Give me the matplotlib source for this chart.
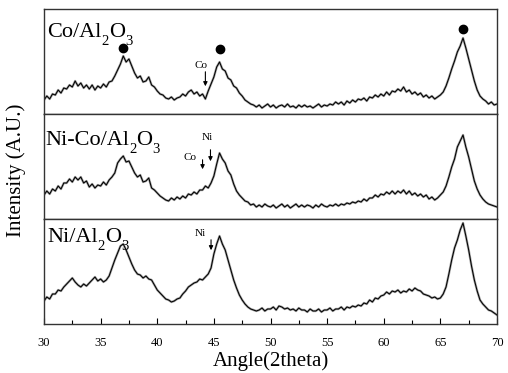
import numpy as np
import matplotlib
matplotlib.use("Agg")
import matplotlib.pyplot as plt

plt.rcParams['font.family'] = ['Liberation Serif', 'DejaVu Serif']

# 2theta grid (0.25 deg steps, 30 -> 70)
angle = np.arange(30, 70.001, 0.25)

co_al2o3 = [
    14, 18, 15, 20, 19, 24, 21, 26, 25, 29, 27, 33, 28, 31, 26, 29,
    25, 29, 24, 28, 26, 30, 27, 32, 33, 38, 44, 50, 58, 52, 55, 48,
    41, 36, 38, 32, 33, 37, 29, 27, 23, 20, 19, 16, 15, 17, 14, 16,
    17, 20, 18, 22, 24, 20, 22, 18, 20, 15, 23, 30, 37, 47, 52, 45,
    43, 36, 34, 28, 26, 21, 18, 14, 12, 10, 9, 7, 9, 6, 8, 10,
    7, 9, 6, 8, 9, 7, 10, 7, 8, 6, 9, 7, 9, 7, 8, 6,
    8, 10, 7, 9, 8, 10, 9, 12, 10, 12, 9, 13, 11, 14, 12, 15,
    14, 16, 13, 17, 16, 19, 17, 20, 18, 22, 19, 23, 22, 25, 23, 27,
    22, 24, 20, 22, 19, 21, 17, 19, 16, 18, 15, 17, 19, 22, 28, 36,
    45, 53, 62, 68, 76, 66, 55, 44, 33, 24, 18, 15, 13, 10, 12, 9,
    10]

nico_al2o3 = [
    24, 28, 25, 30, 28, 33, 30, 36, 36, 40, 37, 42, 39, 42, 36, 38,
    32, 35, 31, 34, 33, 37, 34, 39, 42, 46, 56, 60, 63, 57, 58, 52,
    46, 42, 44, 37, 38, 41, 31, 29, 26, 23, 21, 19, 18, 21, 19, 22,
    20, 23, 21, 25, 24, 27, 25, 29, 29, 33, 31, 36, 43, 55, 66, 60,
    56, 48, 44, 35, 28, 24, 21, 18, 17, 14, 15, 12, 14, 12, 15, 13,
    12, 14, 11, 13, 15, 12, 14, 11, 13, 15, 12, 14, 12, 14, 13, 11,
    14, 12, 15, 13, 12, 14, 13, 15, 13, 15, 14, 16, 15, 17, 16, 18,
    17, 20, 18, 21, 21, 24, 22, 25, 24, 27, 25, 28, 25, 28, 26, 29,
    25, 28, 24, 26, 23, 25, 22, 24, 20, 22, 19, 21, 24, 27, 33, 42,
    52, 60, 72, 78, 84, 72, 62, 50, 38, 30, 24, 20, 17, 15, 14, 13,
    12]

ni_al2o3 = [
    23, 27, 25, 30, 30, 34, 33, 37, 40, 43, 46, 42, 39, 37, 40, 38,
    41, 44, 47, 43, 45, 42, 44, 48, 56, 64, 71, 78, 80, 74, 67, 60,
    54, 50, 49, 46, 48, 45, 44, 39, 34, 31, 28, 25, 24, 22, 23, 25,
    26, 30, 33, 37, 39, 41, 42, 45, 44, 47, 50, 56, 70, 80, 88, 80,
    74, 64, 54, 44, 36, 29, 24, 20, 17, 15, 14, 13, 14, 16, 13, 15,
    15, 17, 14, 18, 17, 15, 16, 14, 15, 13, 16, 14, 14, 12, 15, 13,
    13, 15, 12, 14, 14, 16, 13, 15, 15, 17, 14, 17, 16, 18, 17, 19,
    18, 21, 20, 24, 22, 26, 25, 28, 29, 32, 30, 33, 32, 34, 31, 33,
    32, 35, 33, 36, 34, 33, 30, 29, 28, 26, 27, 25, 26, 30, 37, 50,
    64, 76, 84, 94, 101, 88, 74, 58, 44, 33, 24, 20, 17, 14, 13, 11,
    9]

series = [co_al2o3, nico_al2o3, ni_al2o3]
# panel labels: (text, is_subscript) pieces
labels = [
    [('Co/Al', False), ('2', True), ('O', False), ('3', True)],
    [('Ni-Co/Al', False), ('2', True), ('O', False), ('3', True)],
    [('Ni/Al', False), ('2', True), ('O', False), ('3', True)],
]
label_pos = [(0.007, 0.733), (0.002, 0.705), (0.007, 0.78)]

# peak markers (top panel)
dot_x = [36.98, 45.5, 67.0]
dot_y = [66, 65, 85]

xticks = [30, 35, 40, 45, 50, 55, 60, 65, 70]

W, H = 508, 373
fig = plt.figure(figsize=(W / 100, H / 100), dpi=100)
renderer = fig.canvas.get_renderer()
left, right = 44 / W, 497 / W
tops = [9, 114, 219]
ph = 105
axes = []


def piece_label(ax, x0, y0, pieces):
    dx = 0.0
    for txt, sub in pieces:
        fs = 10.5 if sub else 16
        dy = -8.0 * 72 / 100 if sub else 0.0
        t = ax.annotate(txt, xy=(x0, y0), xycoords='axes fraction',
                        xytext=(dx, dy), textcoords='offset points',
                        fontsize=fs, ha='left', va='baseline')
        bb = t.get_window_extent(renderer=renderer)
        dx += bb.width * 72 / 100 + (0.3 if sub else 0.0)


for i in range(3):
    bottom = 1 - (tops[i] + ph) / H
    ax = fig.add_axes([left, bottom, right - left, ph / H])
    ax.plot(angle, series[i], color='#a6a6a6', lw=1.7)
    ax.plot(angle, series[i], color='black', lw=0.75)
    ax.set_xlim(30, 70)
    ax.set_ylim(0, 105)
    ax.set_yticks([])
    piece_label(ax, label_pos[i][0], label_pos[i][1], labels[i])
    for s in ax.spines.values():
        s.set_linewidth(1.0)
        s.set_color('#333333')
    ax.set_xticks(xticks)
    ax.set_xticks(np.arange(32.5, 70, 5), minor=True)
    ax.tick_params(axis='x', which='both', direction='in', top=False)
    ax.tick_params(axis='x', which='major', length=4, width=0.8)
    ax.tick_params(axis='x', which='minor', length=3, width=0.8)
    if i < 2:
        ax.tick_params(axis='x', which='both', length=0, labelbottom=False)
    axes.append(ax)

ax1, ax2, ax3 = axes
ax1.plot(dot_x, dot_y, 'o', color='black', markersize=6)

arr = dict(arrowstyle='-|>', lw=0.8, color='black', mutation_scale=6)
ax1.text(43.85, 49, 'Co', fontsize=8, ha='center', va='center')
ax1.annotate('', xy=(44.25, 25), xytext=(44.25, 45), arrowprops=arr)

ax2.text(42.85, 61, 'Co', fontsize=8, ha='center', va='center')
ax2.annotate('', xy=(44.0, 47), xytext=(44.0, 62), arrowprops=arr)
ax2.text(44.45, 81, 'Ni', fontsize=8, ha='center', va='center')
ax2.annotate('', xy=(44.7, 55), xytext=(44.7, 72), arrowprops=arr)

ax3.text(43.8, 90, 'Ni', fontsize=8, ha='center', va='center')
ax3.annotate('', xy=(44.75, 71), xytext=(44.75, 87), arrowprops=arr)

ax3.set_xticklabels([str(t) for t in xticks], fontsize=9)
ax3.tick_params(axis='x', which='major', pad=9)
ax3.set_xlabel('Angle(2theta)', fontsize=15, labelpad=2)

fig.text(0.032, (373 - 170) / 373, 'Intensity (A.U.)', rotation=90,
         fontsize=15, ha='center', va='center')

fig.savefig('out.png', dpi=100)
